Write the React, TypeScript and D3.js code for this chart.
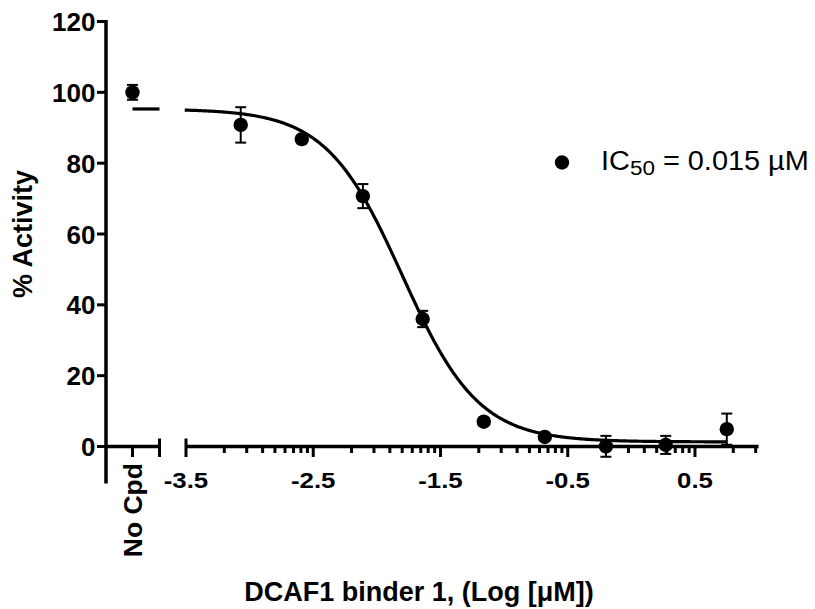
import React from "react";
import * as d3 from "d3";

// ---- Data ----
const logConc = [-3.07, -2.59, -2.11, -1.64, -1.16, -0.68, -0.2, 0.27, 0.75];
const activity = [90.8, 86.8, 70.7, 36.0, 7.0, 2.7, 0.05, 0.45, 4.9];
const sem = [5.0, 0.6, 3.4, 2.3, 1.0, 0.6, 2.95, 2.55, 4.4];
const noCpdMean = 100.0;
const noCpdErr = 2.1;

// Fitted four-parameter logistic
const fitTop = 95.3;
const fitBottom = 1.3;
const fitLogIC50 = -1.8;
const fitHill = 1.45;

const yTicks = [0, 20, 40, 60, 80, 100, 120];
const xMajorTicks = [-3.5, -2.5, -1.5, -0.5, 0.5];
const xTickLabels = ["-3.5", "-2.5", "-1.5", "-0.5", "0.5"];
const noCpdLabel = "No Cpd";
const yTitle = "% Activity";
const xTitle = "DCAF1 binder 1, (Log [μM])";

const W = 815;
const H = 609;
const FONT = "'Liberation Sans', Arial, Helvetica, sans-serif";

export default function App() {
  const x = d3.scaleLinear().domain([-3.5, 1.0]).range([186, 758.6]);
  const y = d3.scaleLinear().domain([0, 120]).range([446.5, 21.5]);

  const yAxisX = 106;
  const seg1End = 159.5;
  const noCpdX = 132.5;
  const y0 = y(0);

  const hill = (lx: number) =>
    fitBottom + (fitTop - fitBottom) / (1 + Math.pow(10, (lx - fitLogIC50) * fitHill));

  const curveXs = d3.range(-3.51, 0.7501, 0.01);
  const line = d3
    .line<number>()
    .x((d) => x(d))
    .y((d) => y(hill(d)))
    .curve(d3.curveLinear);

  // minor log ticks
  const minor: number[] = [];
  for (const m of xMajorTicks) {
    for (let k = 2; k <= 9; k++) {
      const v = m + Math.log10(k);
      if (v <= 1.0) minor.push(v);
    }
  }

  const axisW = 3.5;
  const capHalf = 5.5;

  return (
    <svg
      width={W}
      height={H}
      style={{ position: "absolute", left: 0, top: 0, background: "#fff" }}
      fontFamily={FONT}
    >
      <rect x={0} y={0} width={W} height={H} fill="#fff" />
      {/* Y axis */}
      <line x1={yAxisX} x2={yAxisX} y1={y(120) - 1.5} y2={483.5} stroke="#000" strokeWidth={axisW} />
      {yTicks.map((t) => (
        <g key={t}>
          <line x1={97} x2={yAxisX} y1={y(t)} y2={y(t)} stroke="#000" strokeWidth={3} />
          <text
            x={95.5}
            y={y(t) + 9.5}
            textAnchor="end"
            fontSize={26}
            fontWeight="bold"
          >
            {t}
          </text>
        </g>
      ))}

      {/* X axis segment 1 (No Cpd) */}
      <line x1={yAxisX} x2={seg1End} y1={y0} y2={y0} stroke="#000" strokeWidth={axisW} />
      <line x1={noCpdX} x2={noCpdX} y1={y0} y2={y0 + 10.5} stroke="#000" strokeWidth={3} />
      <line x1={seg1End} x2={seg1End} y1={y0 - 8} y2={y0 + 10.5} stroke="#000" strokeWidth={3} />
      <text
        transform={`translate(${141.5},${463}) rotate(-90)`}
        textAnchor="end"
        fontSize={26.5}
        fontWeight="bold"
      >
        {noCpdLabel}
      </text>

      {/* X axis segment 2 */}
      <line x1={x(-3.5)} x2={x(1.0)} y1={y0} y2={y0} stroke="#000" strokeWidth={axisW} />
      <line x1={x(-3.5)} x2={x(-3.5)} y1={y0 - 8} y2={y0 + 10.5} stroke="#000" strokeWidth={3} />
      {xMajorTicks.slice(1).map((t) => (
        <line key={t} x1={x(t)} x2={x(t)} y1={y0} y2={y0 + 10.5} stroke="#000" strokeWidth={3} />
      ))}
      {minor.map((t, i) => (
        <line key={i} x1={x(t)} x2={x(t)} y1={y0} y2={y0 + 6.5} stroke="#000" strokeWidth={3} />
      ))}
      {xMajorTicks.map((t, i) => (
        <text
          key={t}
          transform={`translate(${x(t)},488) scale(1.2,1)`}
          textAnchor="middle"
          fontSize={21.5}
          fontWeight="bold"
        >
          {xTickLabels[i]}
        </text>
      ))}

      {/* Fitted curve */}
      <path d={line(curveXs) || ""} fill="none" stroke="#000" strokeWidth={3.2} />
      <line x1={noCpdX} x2={seg1End} y1={y(fitTop)} y2={y(fitTop)} stroke="#000" strokeWidth={3.2} />

      {/* Error bars */}
      {logConc.map((lx, i) => {
        const cx = x(lx);
        const top = y(activity[i] + sem[i]);
        const bot = y(activity[i] - sem[i]);
        return (
          <g key={i} stroke="#000" strokeWidth={2}>
            <line x1={cx} x2={cx} y1={top} y2={bot} />
            <line x1={cx - capHalf} x2={cx + capHalf} y1={top} y2={top} />
            <line x1={cx - capHalf} x2={cx + capHalf} y1={bot} y2={bot} />
          </g>
        );
      })}
      <g stroke="#000" strokeWidth={2}>
        <line x1={noCpdX} x2={noCpdX} y1={y(noCpdMean + noCpdErr)} y2={y(noCpdMean - noCpdErr)} />
        <line x1={noCpdX - capHalf} x2={noCpdX + capHalf} y1={y(noCpdMean + noCpdErr)} y2={y(noCpdMean + noCpdErr)} />
        <line x1={noCpdX - capHalf} x2={noCpdX + capHalf} y1={y(noCpdMean - noCpdErr)} y2={y(noCpdMean - noCpdErr)} />
      </g>

      {/* Points */}
      {logConc.map((lx, i) => (
        <circle key={i} cx={x(lx)} cy={y(activity[i])} r={7.2} fill="#000" />
      ))}
      <circle cx={noCpdX} cy={y(noCpdMean)} r={7.2} fill="#000" />

      {/* Legend */}
      <circle cx={562} cy={162.5} r={7.2} fill="#000" />
      <text transform="translate(601,170) scale(1.07,1)" fontSize={27}>
        IC
        <tspan fontSize={21} dy={5}>50</tspan>
        <tspan dy={-5}> = 0.015 µM</tspan>
      </text>

      {/* Axis titles */}
      <text
        transform={`translate(32,234) rotate(-90)`}
        textAnchor="middle"
        fontSize={27}
        fontWeight="bold"
      >
        {yTitle}
      </text>
      <text x={419} y={601} textAnchor="middle" fontSize={27} fontWeight="bold">
        {xTitle}
      </text>
    </svg>
  );
}
